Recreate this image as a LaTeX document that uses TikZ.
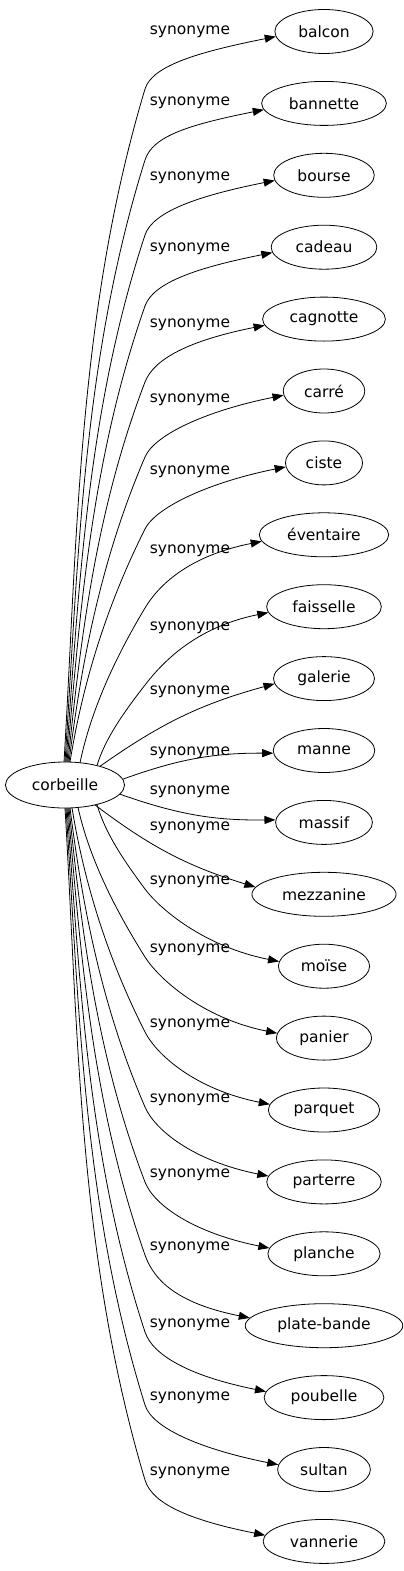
\documentclass[tikz,border=0pt]{standalone}
\usepackage{fontspec}
\setmainfont{DejaVu Sans}
\usetikzlibrary{arrows.meta,calc,shapes.geometric}
\begin{document}
\begin{tikzpicture}[x=1pt,y=-1pt,
  nd/.style={draw, ellipse, inner xsep=9pt, inner ysep=2pt, minimum height=44pt,
    font=\fontsize{15.5}{18}\selectfont, line width=0.8pt},
  lbl/.style={font=\fontsize{15.5}{18}\selectfont, inner sep=0pt},
  syn/.style={draw, line width=0.8pt, line join=round, -{Triangle[length=11pt,width=8pt]}}]
\useasboundingbox (0,0) rectangle (404,1571);
\node[nd, minimum height=46pt] (c) at (65,785) {corbeille};
% mode: 1 = knee path, 2 = bend left, 3 = bend right
\foreach \txt/\ly/\sx/\sgn/\ea/\mode [count=\i from 0] in {
  balcon/32/64/-1/186/1, bannette/103/65/-1/186/1, bourse/178/66/-1/186/1,
  cadeau/249/67/-1/186/1, cagnotte/325/68/-1/186/1, carré/400/69/-1/186/1,
  ciste/472/70/-1/186/1, éventaire/551/80/-1/186/1, faisselle/628/97/-1/186/1,
  galerie/692/100/-1/186/2, manne/753/123/-1/183/2, massif/792/120/1/177/3,
  mezzanine/828/95/1/174/3, moïse/882/97/1/174/1, panier/950/78/1/174/1,
  parquet/1025/72/1/174/1, parterre/1100/70/1/174/1, planche/1175/69/1/174/1,
  plate-bande/1248/68/1/174/1, poubelle/1325/67/1/174/1, sultan/1398/66/1/174/1,
  vannerie/1473/65/1/174/1}{
  \pgfmathsetmacro{\ty}{31.5+71.9*\i}
  \pgfmathsetmacro{\sy}{785+\sgn*23*sqrt(1-((\sx-65)/60)^2)}
  \node[nd] (n\i) at (324,\ty) {\txt};
  \node[lbl] (l\i) at (190,\ly) {synonyme};
  \coordinate (s\i) at (\sx,\sy);
  \ifnum\mode=1
    \pgfmathsetmacro{\ky}{\ly+(\sgn<0 ? 57 : 7)}
    \pgfmathsetmacro{\dy}{\ky-\sy}
    \pgfmathsetmacro{\m}{(145-\sx)/abs(\dy)}
    \pgfmathsetmacro{\L}{abs(\dy)/3}
    \pgfmathsetmacro{\mk}{\m+0.18}
    \pgfmathsetmacro{\nn}{sqrt(1+(\mk)^2)}
    \coordinate (k\i) at (145,\ky);
    \draw[syn] (s\i)
      .. controls ({\sx+0.5*\m*\L},{\sy+\dy/3}) and ({145-\mk*\L},{\ky-\dy/3}) .. (k\i)
      .. controls ({145+25*\mk/\nn},{\ky+\sgn*25/\nn}) and ($(n\i.\ea)+(-75,{-\sgn*15})$) .. (n\i.\ea);
  \else\ifnum\mode=2
    \draw[syn] (s\i) to[bend left=10] (n\i.\ea);
  \else
    \draw[syn] (s\i) to[bend right=10] (n\i.\ea);
  \fi\fi
}
\end{tikzpicture}
\end{document}
